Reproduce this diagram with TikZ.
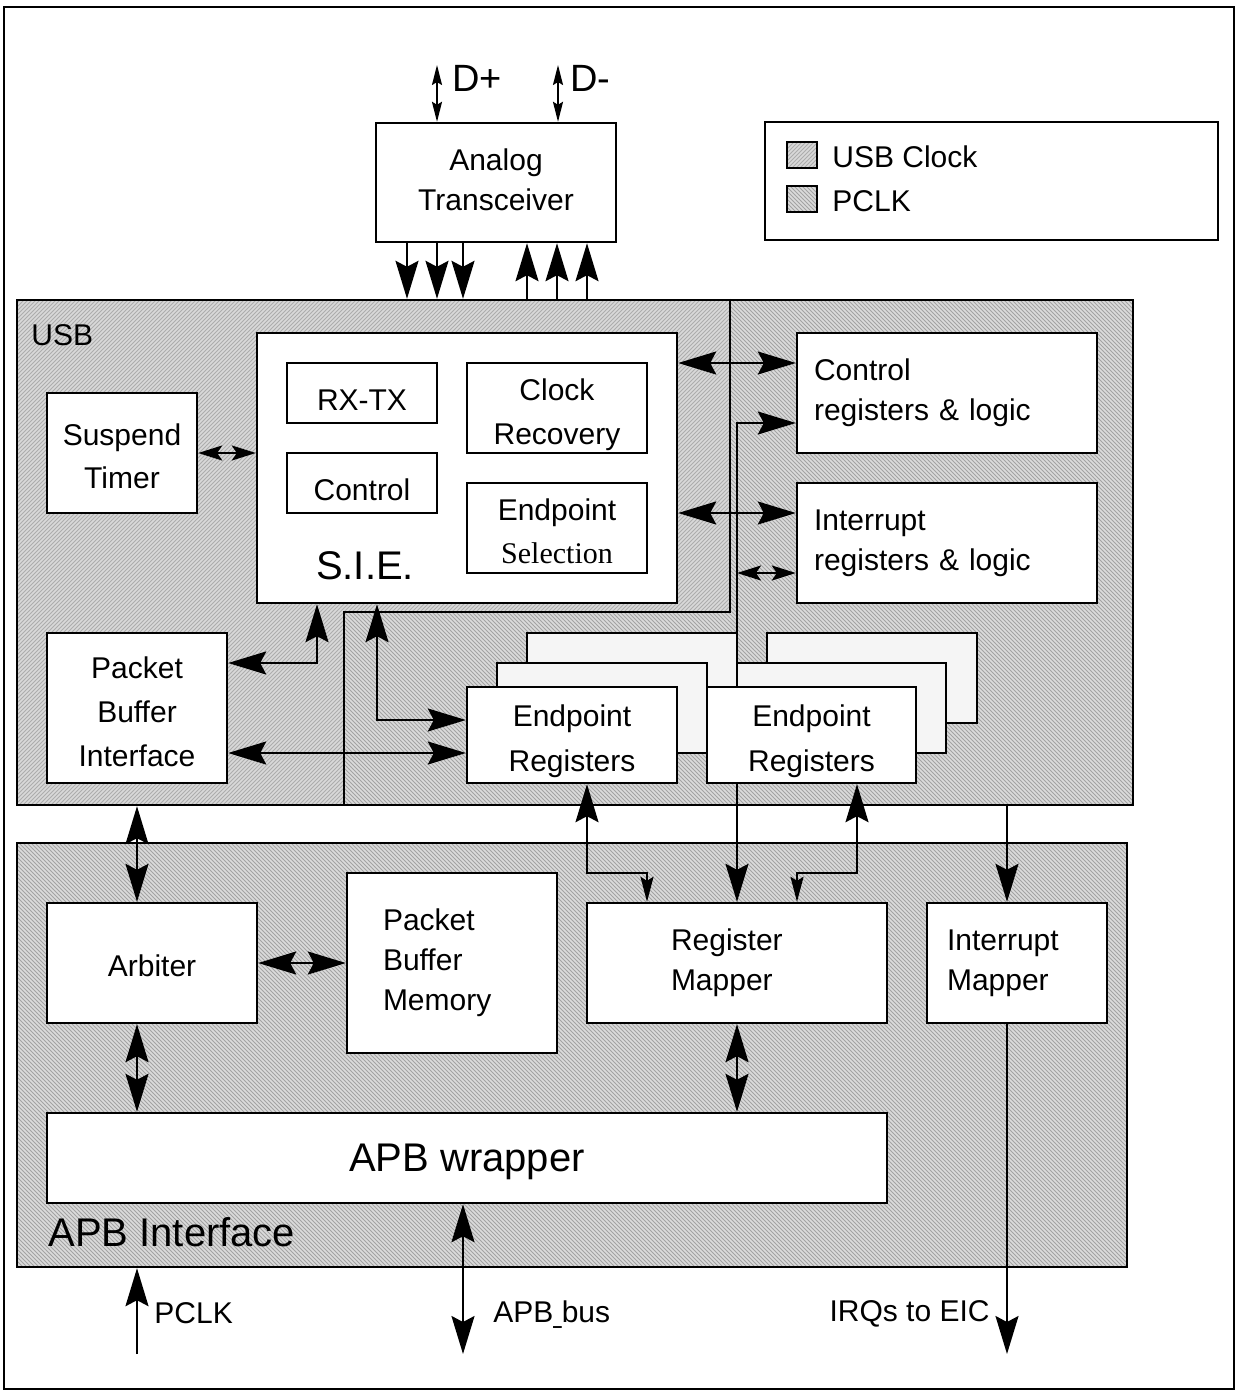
\documentclass[tikz,border=0pt]{standalone}
\usepackage{fontspec}
\usepackage{graphicx}
\setmainfont{Liberation Sans}
\newfontfamily\seriffont{Liberation Serif}
\usetikzlibrary{arrows.meta,patterns.meta}
\tikzset{
  BigT/.tip={Stealth[length=19pt,width=11.5pt,inset=3pt]},
  MedT/.tip={Stealth[length=12.5pt,width=6.5pt,inset=2pt]},
  SmT/.tip={Stealth[length=12pt,width=7.5pt,inset=2.5pt]},
  DT/.tip={Stealth[length=10pt,width=5pt,inset=1.5pt]},
  box/.style={draw,line width=1.2pt,fill=white,inner sep=0pt,align=center,font=\fontsize{15}{20}\selectfont},
  txt/.style={inner sep=0pt,align=center,font=\fontsize{15}{20}\selectfont},
  epback/.style={draw,line width=1.2pt,fill=black!4,inner sep=0pt,minimum width=105pt,minimum height=45pt},
  conn/.style={line width=1pt},
  lbl/.style={inner sep=0pt,anchor=west,font=\fontsize{15}{18}\selectfont},
  biglbl/.style={inner sep=0pt,font=\fontsize{20}{24}\selectfont},
  usbclk/.style={preaction={fill=black!15},pattern={Lines[angle=45,distance=1.4142pt,line width=0.45pt]},pattern color=black!32},
  pclk/.style={preaction={fill=black!14},pattern={Lines[angle=-45,distance=1.4142pt,line width=0.45pt]},pattern color=black!36},
}
\begin{document}
\begin{tikzpicture}[x=0.5pt,y=-0.5pt]
\useasboundingbox (0,0) rectangle (1239,1392);
\draw[line width=1pt] (4,7) rectangle (1234,1389);

% USB region
\path[usbclk] (17,300) -- (730,300) -- (730,612) -- (344,612) -- (344,805) -- (17,805) -- cycle;
\path[pclk] (730,300) -- (1133,300) -- (1133,805) -- (344,805) -- (344,612) -- (730,612) -- cycle;
\node[draw,line width=1.2pt,inner sep=0pt,minimum width=558pt,minimum height=252.5pt] (usb) at (575,552.5) {};
\draw[conn] (usb.north -| 730,0) -- (730,612) -- (344,612) -- (usb.south -| 344,0);
\node[lbl] (usbL) at (31,335) {USB};

% APB region
\node[draw,line width=1.2pt,pclk,inner sep=0pt,minimum width=555pt,minimum height=212pt] (apb) at (572,1055) {};
\node[biglbl,anchor=west] (apbL) at (48,1232) {APB Interface};

% Legend
\node[draw,line width=1.2pt,fill=white,inner sep=0pt,minimum width=226.5pt,minimum height=59pt] (leg) at (991.5,181) {};
\node[draw,line width=1pt,usbclk,inner sep=0pt,minimum width=15pt,minimum height=13pt] (sw1) at (802,155) {};
\node[draw,line width=1pt,pclk,inner sep=0pt,minimum width=15pt,minimum height=13pt] (sw2) at (802,199) {};
\node[lbl] (sw1t) at (832,157) {USB Clock};
\node[lbl] (sw2t) at (832,201) {PCLK};

% Analog transceiver
\node[box,minimum width=120pt,minimum height=59.5pt] (at) at (496,182.5) {};
\node[txt,yshift=1.5pt] (atT) at (at) {Analog\\Transceiver};
\coordinate (dpT) at (437,65);
\coordinate (dmT) at (558,65);
\node[lbl,font=\fontsize{19}{22}\selectfont] (dpL) at (452,78) {D+};
\node[lbl,font=\fontsize{19}{22}\selectfont] (dmL) at (570,78) {D-};

% S.I.E.
\node[box,minimum width=210pt,minimum height=135pt] (sie) at (467,468) {};
\node[box,minimum width=75pt,minimum height=30pt] (rxtx) at (362,393) {};
\node[txt,yshift=-3.5pt] (rxtxT) at (rxtx) {RX-TX};
\node[box,minimum width=90pt,minimum height=45pt] (clk) at (557,408) {};
\node[txt,yshift=-3.5pt] (clkT) at (clk) {Clock\\[2pt]Recovery};
\node[box,minimum width=75pt,minimum height=30pt] (ctl) at (362,483) {};
\node[txt,yshift=-3.5pt] (ctlT) at (ctl) {Control};
\node[box,minimum width=90pt,minimum height=45pt] (eps) at (557,528) {};
\node[txt,yshift=-1.5pt] (epsT) at (eps) {Endpoint\\[1.5pt]{\seriffont Selection}};
\node[biglbl] (sieL) at (365,566) {S.I.E.};

\node[box,minimum width=75pt,minimum height=60pt] (susp) at (122,453) {};
\node[txt,yshift=-1.5pt] (suspT) at (susp) {Suspend\\[1.5pt]Timer};
\node[box,minimum width=150pt,minimum height=60pt,align=left,text width=133pt,inner xsep=8.5pt] (creg) at (947,393) {Control\\registers \& logic};
\node[box,minimum width=150pt,minimum height=60pt,align=left,text width=133pt,inner xsep=8.5pt] (ireg) at (947,543) {Interrupt\\registers \& logic};
\node[box,minimum width=90pt,minimum height=75pt] (pbi) at (137,708) {};
\node[txt,yshift=-2pt] (pbiT) at (pbi) {Packet\\[2pt]Buffer\\[2pt]Interface};

% Endpoint register stacks (back)
\node[epback] (ep1c) at (632,678) {};
\node[epback] (ep1b) at (602,708) {};
\node[epback,minimum width=105pt] (ep2c) at (872,678) {};
\node[epback,minimum width=104.5pt] (ep2b) at (841.5,708) {};

% Register mapper and its line to the control registers (behind front endpoint box)
\node[box,minimum width=150pt,minimum height=60pt,align=left,text width=66pt,inner xsep=42pt] (rmap) at (737,963) {Register\\Mapper};
\draw[conn,BigT-BigT] (rmap.north) -- (737,423) -- (creg.west |- 0,423);

% Endpoint register fronts
\node[box,minimum width=105pt,minimum height=48pt] (ep1) at (572,735) {};
\node[txt,yshift=-3pt] (ep1T) at (ep1) {Endpoint\\[2.5pt]Registers};
\node[box,minimum width=104.5pt,minimum height=48pt] (ep2) at (811.5,735) {};
\node[txt,yshift=-3pt] (ep2T) at (ep2) {Endpoint\\[2.5pt]Registers};

% APB part boxes
\node[box,minimum width=105pt,minimum height=60pt] (arb) at (152,963) {};
\node[txt,yshift=-1.5pt] (arbT) at (arb) {Arbiter};
\node[box,minimum width=105pt,minimum height=90pt,align=left,text width=69pt,inner xsep=18pt] (pbm) at (452,963) {Packet\\Buffer\\Memory};
\node[box,minimum width=90pt,minimum height=60pt,align=left,text width=70pt,inner xsep=10pt] (imap) at (1017,963) {Interrupt\\Mapper};
\node[box,minimum width=420pt,minimum height=45pt] (apbw) at (467,1158) {};
\node[biglbl,yshift=-2pt] (apbwT) at (apbw) {APB wrapper};

% external ends
\coordinate (pclkS) at (137,1354);
\coordinate (busE) at (463,1354);
\coordinate (irqE) at (1007,1354);
\node[lbl] (pclkL) at (154,1313) {PCLK};
\node[lbl] (busL) at (493,1314.5) {APB\scalebox{0.5}[1]{\_}bus};
\node[lbl,anchor=east] (irqL) at (990,1313.5) {IRQs to EIC};

% connectors
\draw[conn,DT-DT] (dpT) -- (at.north -| dpT);
\draw[conn,DT-DT] (dmT) -- (at.north -| dmT);
\foreach \xx in {407,437,463} \draw[conn,-BigT] (at.south -| \xx,0) -- (usb.north -| \xx,0);
\foreach \xx in {527,557,587} \draw[conn,-BigT] (usb.north -| \xx,0) -- (at.south -| \xx,0);

\draw[conn,BigT-BigT] (sie.east |- 0,363) -- (creg.west |- 0,363);
\draw[conn,BigT-BigT] (sie.east |- 0,513) -- (ireg.west |- 0,513);
\draw[conn,SmT-SmT] (susp.east) -- (sie.west |- susp.east);
\draw[conn,SmT-SmT] (737,573) -- (ireg.west |- 0,573);

\draw[conn,BigT-BigT] (pbi.east |- 0,663) -- (317,663) -- (sie.south -| 317,0);
\draw[conn,BigT-BigT] (sie.south -| 377,0) -- (377,720) -- (ep1.west |- 0,720);
\draw[conn,BigT-BigT] (pbi.east |- 0,753) -- (ep1.west |- 0,753);

\draw[conn,BigT-BigT] (usb.south -| 137,0) -- (arb.north -| 137,0);
\draw[conn,BigT-BigT] (arb.east) -- (pbm.west |- arb.east);
\draw[conn,BigT-BigT] (arb.south -| 137,0) -- (apbw.north -| 137,0);
\draw[conn,BigT-BigT] (rmap.south) -- (apbw.north -| rmap.south);
\draw[conn,BigT-MedT] (ep1.south -| 587,0) -- (587,873) -- (647,873) -- (rmap.north -| 647,0);
\draw[conn,BigT-MedT] (ep2.south -| 857,0) -- (857,873) -- (797,873) -- (rmap.north -| 797,0);
\draw[conn,-BigT] (usb.south -| 1007,0) -- (imap.north -| 1007,0);
\draw[conn,-BigT] (imap.south -| 1007,0) -- (irqE);
\draw[conn,-BigT] (pclkS) -- (apb.south -| pclkS);
\draw[conn,BigT-BigT] (apbw.south -| busE) -- (busE);
\end{tikzpicture}
\end{document}
